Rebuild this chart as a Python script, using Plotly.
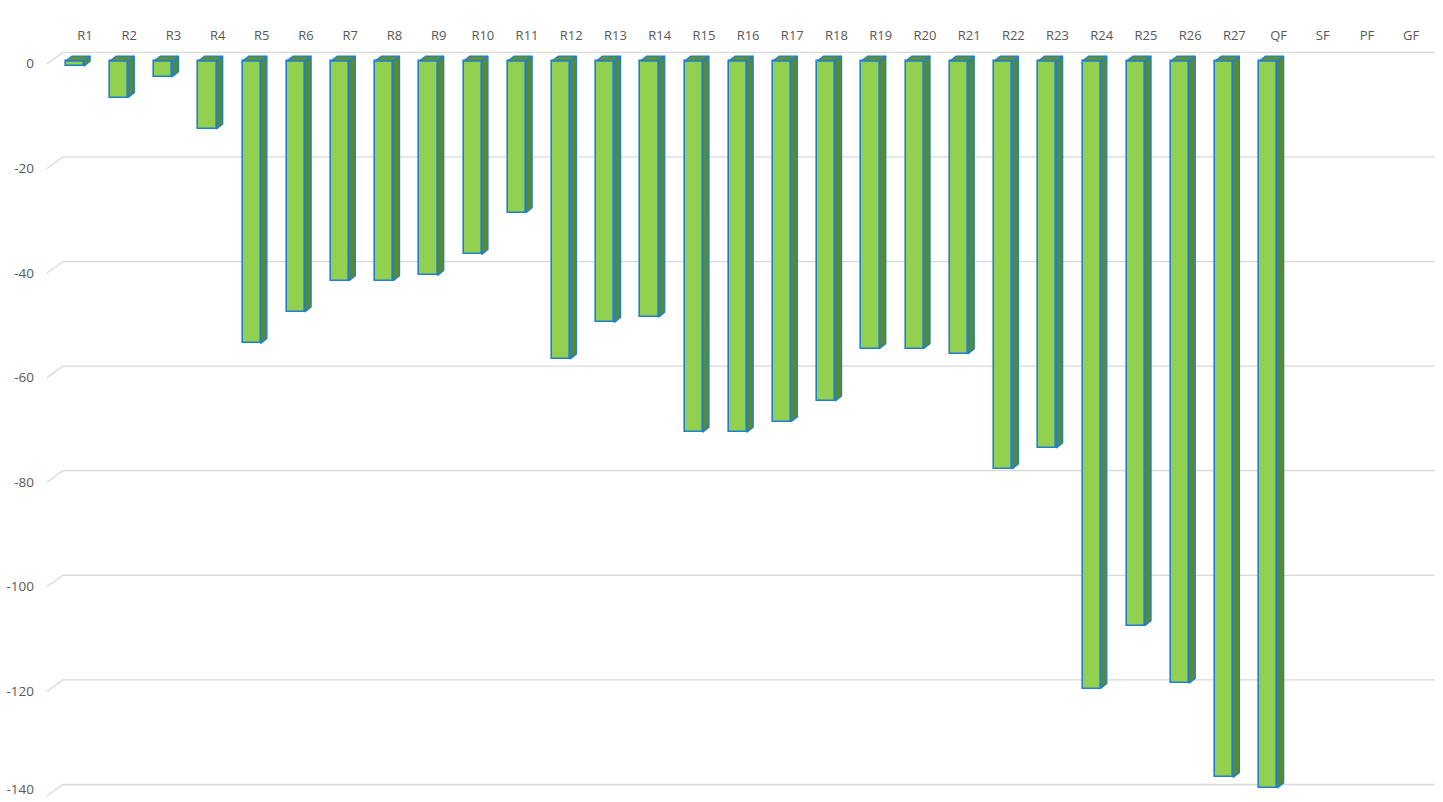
import plotly.graph_objects as go

categories = ["R1", "R2", "R3", "R4", "R5", "R6", "R7", "R8", "R9", "R10",
              "R11", "R12", "R13", "R14", "R15", "R16", "R17", "R18", "R19", "R20",
              "R21", "R22", "R23", "R24", "R25", "R26", "R27", "QF", "SF", "PF", "GF"]
values = [-1, -7, -3, -13, -54, -48, -42, -42, -41, -37,
          -29, -57, -50, -49, -71, -71, -69, -65, -55, -55,
          -56, -78, -74, -120, -108, -119, -137, -139, None, None, None]
y_ticks = [0, -20, -40, -60, -80, -100, -120, -140]

# styling / geometry (in axis units)
FRONT = "#92d050"
SIDE = "#578a36"
TOP = "#5f9038"
EDGE = "#1f7fd0"
GRID = "#d9d9d9"
TXT = "#595959"
bar_w = 0.41
bar_shift = -0.23
dx = 0.14    # depth offset in x
dy = 0.95    # depth offset in y
grid_back = 1.65
grid_front = -0.55
X_RANGE = [-1.018, 30.72]
Y_RANGE = [-141.7, 3.25]

idx = list(range(len(categories)))
xc = [i + bar_shift for i in idx]

fig = go.Figure()

# back-wall gridlines with left floor diagonal (subplot drawn first, below bars)
gx, gy = [], []
for t in y_ticks:
    gx += [-0.86, -0.50, 30.54, None]
    gy += [t + grid_front, t + grid_back, t + grid_back, None]
fig.add_trace(go.Scatter(x=gx, y=gy, mode="lines", xaxis="x", yaxis="y",
                         line=dict(color=GRID, width=1.3),
                         hoverinfo="skip", cliponaxis=False))

# front faces
fig.add_trace(go.Bar(x=xc, y=values, width=bar_w, base=0, xaxis="x2", yaxis="y2",
                     marker=dict(color=FRONT, line=dict(color=EDGE, width=1.6)),
                     hovertemplate="%{y}<extra></extra>"))

# side and top faces
sx, sy, tx, ty = [], [], [], []
for c, v in zip(xc, values):
    if v is None:
        continue
    xr = c + bar_w / 2
    xl = c - bar_w / 2
    sx += [xr, xr + dx, xr + dx, xr, xr, None]
    sy += [0, dy, v + dy, v, 0, None]
    tx += [xl, xl + dx, xr + dx, xr, xl, None]
    ty += [0, dy, dy, 0, 0, None]
fig.add_trace(go.Scatter(x=sx, y=sy, mode="lines", fill="toself", xaxis="x2", yaxis="y2",
                         fillcolor=SIDE, line=dict(color=EDGE, width=1.3),
                         hoverinfo="skip"))
fig.add_trace(go.Scatter(x=tx, y=ty, mode="lines", fill="toself", xaxis="x2", yaxis="y2",
                         fillcolor=TOP, line=dict(color=EDGE, width=1.3),
                         hoverinfo="skip"))

# label positions: slightly below the front zero plane, kept inside the page
label_pos = [max(t - 0.5, Y_RANGE[0] + 2.4) for t in y_ticks]

fig.update_layout(
    width=1443, height=802,
    margin=dict(l=40, r=0, t=44, b=0),
    paper_bgcolor="white", plot_bgcolor="rgba(0,0,0,0)",
    showlegend=False,
    font=dict(family="Open Sans", size=13, color=TXT),
    bargap=0,
    xaxis=dict(range=X_RANGE, side="top", automargin=False,
               tickvals=idx, ticktext=categories,
               showgrid=False, zeroline=False, showline=False, ticks="",
               tickfont=dict(size=13, color=TXT)),
    yaxis=dict(range=Y_RANGE, automargin=False,
               tickvals=label_pos,
               ticktext=[str(t) for t in y_ticks],
               showgrid=False, zeroline=False, showline=False, ticks="",
               ticklabelstandoff=5, ticklabeloverflow="allow",
               tickfont=dict(size=13.5, color=TXT)),
    xaxis2=dict(range=X_RANGE, anchor="y2", visible=False),
    yaxis2=dict(range=Y_RANGE, anchor="x2", visible=False),
)

fig.write_html("out.html", config={"displayModeBar": False},
               post_script="document.body.style.margin='0';document.body.style.overflow='hidden';")
